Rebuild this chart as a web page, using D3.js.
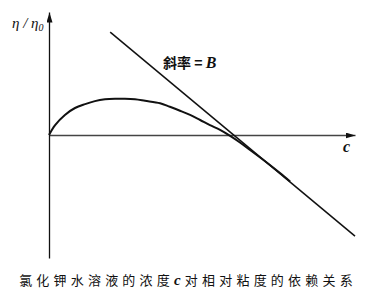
<!DOCTYPE html>
<html>
<head>
<meta charset="utf-8">
<script src="https://cdn.jsdelivr.net/npm/d3@7"></script>
<style>
body { margin:0; background:#fff; }
.cjk { font-family: "Noto Sans CJK SC", sans-serif; }
.it { font-family: "Liberation Serif", "DejaVu Serif", serif; font-style: italic; }
</style>
</head>
<body>
<div id="chart"></div>
<script>
// concentration c (arbitrary units) and relative viscosity eta/eta0
var curveC   = [0, 0.2, 0.52, 0.85, 1.18, 1.5, 1.83, 2.16, 2.48, 2.81, 3.14, 3.63, 3.95, 4.28, 4.61, 4.94, 5.26, 5.59, 5.92, 6.24, 6.57, 6.9, 7.22, 7.55, 7.88];
var curveEta = [0, 0.33, 0.67, 0.9, 1.03, 1.13, 1.19, 1.21, 1.21, 1.19, 1.14, 1.06, 0.94, 0.81, 0.67, 0.5, 0.33, 0.17, -0.03, -0.25, -0.5, -0.75, -1.0, -1.27, -1.55];
// asymptote with slope B
var lineC   = [2.0, 10.0];
var lineEta = [3.43, -3.37];

var labelY = "η / η";
var labelX = "c";
var slopeText = "斜率 = ";
var caption = ["氯化钾水溶液的浓度", "c", "对相对粘度的依赖关系"];

var svg = d3.select("#chart").append("svg").attr("width", 376).attr("height", 300);

var x = d3.scaleLinear().domain([0, 10]).range([49, 355]);
var y = d3.scaleLinear().domain([-4.1, 4.1]).range([258, 12]);

svg.append("defs").append("marker")
    .attr("id", "arrow").attr("viewBox", "0 0 10 6")
    .attr("refX", 10).attr("refY", 3)
    .attr("markerWidth", 10).attr("markerHeight", 6)
    .attr("markerUnits", "userSpaceOnUse")
    .attr("orient", "auto")
    .append("path").attr("d", "M0,0L10,3L0,6Z").attr("fill", "#111");

var xAxis = d3.axisBottom(x).ticks(0).tickSizeOuter(0);
var yAxis = d3.axisLeft(y).ticks(0).tickSizeOuter(0);

svg.append("g").attr("transform", "translate(0," + y(0) + ")").call(xAxis)
    .select(".domain").attr("stroke", "#444").attr("stroke-width", 1.5).attr("marker-end", "url(#arrow)");
svg.append("g").attr("transform", "translate(" + x(0) + ",0)").call(yAxis)
    .select(".domain").attr("stroke", "#111").attr("stroke-width", 1.3).attr("marker-end", "url(#arrow)");

var line = d3.line()
    .curve(d3.curveCatmullRom)
    .x(function(d) { return x(d[0]); })
    .y(function(d) { return y(d[1]); });

svg.append("path").datum(d3.zip(lineC, lineEta))
    .attr("fill", "none").attr("stroke", "#111").attr("stroke-width", 1.5).attr("d", line);

svg.append("path").datum(d3.zip(curveC, curveEta))
    .attr("fill", "none").attr("stroke", "#111").attr("stroke-width", 2).attr("d", line);

// y label
var yl = svg.append("text").attr("class", "it").attr("x", 12).attr("y", 28).attr("font-size", 15).attr("fill", "#111");
yl.append("tspan").text(labelY);
yl.append("tspan").attr("font-size", 10).attr("dy", 3).text("0");

// x label
svg.append("text").attr("class", "it").attr("x", 343).attr("y", 152)
    .attr("font-size", 16).attr("font-weight", "bold").attr("fill", "#111").text(labelX);

// slope label
var sl = svg.append("text").attr("x", 163).attr("y", 68).attr("font-size", 14).attr("font-weight", "bold").attr("fill", "#111");
sl.append("tspan").attr("class", "cjk").text(slopeText);
sl.append("tspan").attr("class", "it").attr("font-size", 16).text("B");

// caption
var cap = svg.append("text").attr("x", 188).attr("y", 285).attr("text-anchor", "middle")
    .attr("font-size", 13).attr("letter-spacing", 4.2).attr("fill", "#111");
cap.append("tspan").attr("class", "cjk").text(caption[0]);
cap.append("tspan").attr("class", "it").attr("font-weight", "bold").attr("font-size", 15).text(caption[1]);
cap.append("tspan").attr("class", "cjk").text(caption[2]);
</script>
</body>
</html>
